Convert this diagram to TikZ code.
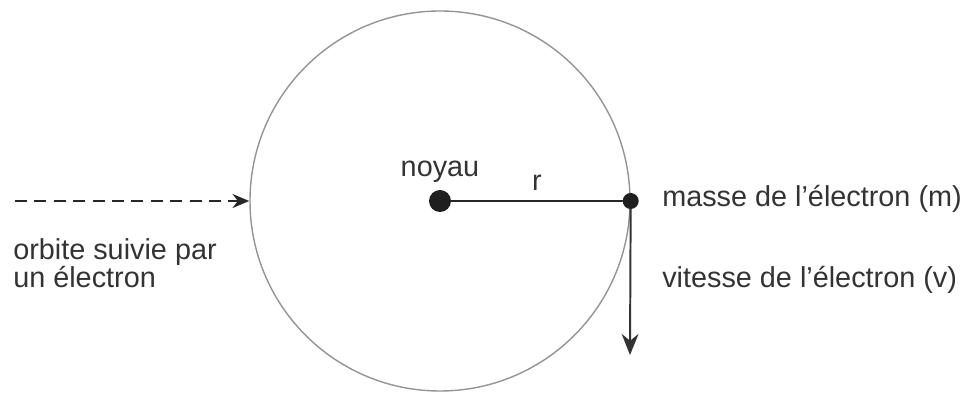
\documentclass[tikz,border=0pt]{standalone}
\usepackage{fontspec}
\setmainfont{Liberation Sans}
\usepackage{tikz}
\usetikzlibrary{arrows.meta,positioning,calc}

\begin{document}
\begin{tikzpicture}[
  font=\fontsize{20.5}{19.2}\selectfont,
  line cap=round,
  line join=round,
  orbit/.style={
    circle,
    draw=black!42,
    line width=1pt,
    minimum size=9.5cm,
    inner sep=0pt
  },
  nucleus/.style={
    circle,
    fill=black!88,
    minimum size=0.55cm,
    inner sep=0pt
  },
  electron/.style={
    circle,
    fill=black!88,
    minimum size=0.4cm,
    inner sep=0pt
  },
  txt/.style={
    anchor=base west,
    inner sep=0pt,
    text=black!80,
    align=left
  },
  dasharr/.style={
    -{Stealth[length=12pt,width=10pt]},
    line width=1.3pt,
    line cap=butt,
    draw=black!85,
    dash pattern=on 8.5pt off 5.3pt
  },
  velarr/.style={
    -{Stealth[length=15pt,width=12pt]},
    line width=1.4pt,
    draw=black!80
  }
]

\useasboundingbox (-11,-4.825) rectangle (13.075,5.025);

\node[orbit] (O) at (0,0) {};
\node[nucleus] (N) at (0,0) {};
\node[electron] (E) at (O.east) {};

\coordinate (start) at (-10.625,0);
\coordinate (vtip) at (4.75,-3.85);

\draw[line width=1.2pt, draw=black!85] (N) -- node[above=6.8pt, inner sep=0pt, text=black!80] (r) {r} (E);
\draw[dasharr] (start) -- (O.west);
\draw[velarr] (E) -- (vtip);

\node[txt, anchor=base] (noyau) at (0,0.6) {noyau};
\node[txt] (masse) at (5.55,-0.15) {masse de l’électron (m)};
\node[txt] (vitesse) at (5.55,-2.175) {vitesse de l’électron (v)};
\node[txt] (orbite) at (-10.675,-2.175) {orbite suivie par\\un électron};

\end{tikzpicture}
\end{document}
